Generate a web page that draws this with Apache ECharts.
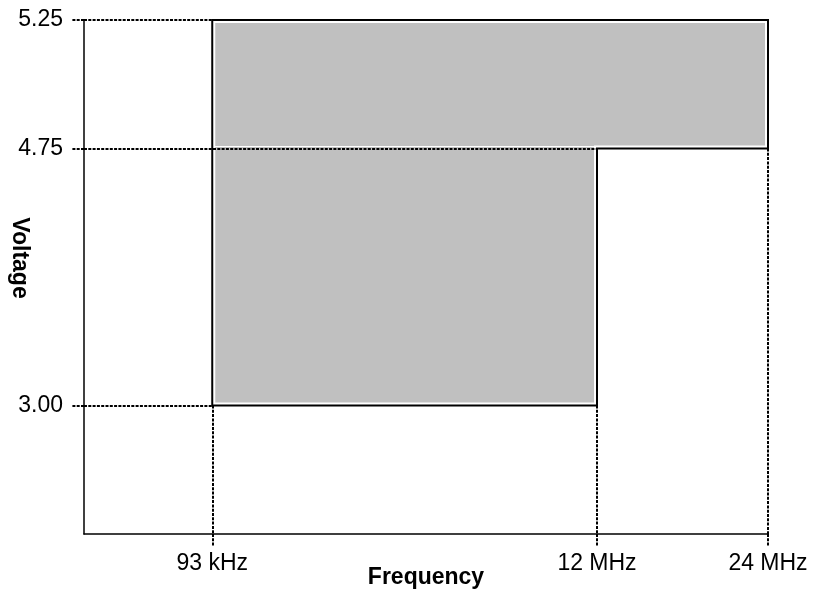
<!DOCTYPE html>
<html>
<head>
<meta charset="utf-8">
<script src="https://cdn.jsdelivr.net/npm/echarts@6/dist/echarts.min.js"></script>
<style>
  html, body { margin: 0; padding: 0; background: #fff; }
  #chart { width: 814px; height: 590px; }
</style>
</head>
<body>
<div id="chart"></div>
<script>
// tick labels and where they sit on the (schematic, not to scale) axes
var freqLabels = ['93 kHz', '12 MHz', '24 MHz'];
var freqSlots = [3, 12, 16];
var voltLabels = ['3.00', '4.75', '5.25'];
var voltSlots = [1, 3, 4];

// operating region, as two bands
var bandFrom = ['93 kHz', '12 MHz'];
var bandTo = ['12 MHz', '24 MHz'];
var bandLow = ['3.00', '4.75'];
var bandHigh = ['5.25', '5.25'];

// dotted guide lines
var voltGuideTo = ['93 kHz', '12 MHz', '93 kHz'];   // per voltLabels
var freqGuideFrom = ['3.00', '3.00', '4.75'];       // per freqLabels

function fx(label) { return freqSlots[freqLabels.indexOf(label)]; }
function vy(label) { return voltSlots[voltLabels.indexOf(label)]; }

// outline of the stepped region
var outline = [
  [fx(bandFrom[0]), vy(bandLow[0])],
  [fx(bandTo[0]), vy(bandLow[0])],
  [fx(bandTo[0]), vy(bandLow[1])],
  [fx(bandTo[1]), vy(bandLow[1])],
  [fx(bandTo[1]), vy(bandHigh[1])],
  [fx(bandFrom[0]), vy(bandHigh[0])]
];

var guides = [];
voltLabels.forEach(function (v, i) {
  guides.push({ coords: [[0, vy(v)], [fx(voltGuideTo[i]), vy(v)]] });
});
freqLabels.forEach(function (f, i) {
  guides.push({ coords: [[fx(f), vy(freqGuideFrom[i])], [fx(f), 0]] });
});

var font = "'Liberation Sans', Arial, sans-serif";
var dotted = { color: '#000', width: 2, opacity: 1, type: [3, 1.3] };

var chart = echarts.init(document.getElementById('chart'));
chart.setOption({
  animation: false,
  backgroundColor: '#fff',
  grid: { left: 84, right: 46, top: 20, bottom: 56, containLabel: false, outerBoundsMode: 'none' },
  xAxis: {
    type: 'value',
    min: 0,
    max: 16,
    name: 'Frequency',
    nameLocation: 'middle',
    nameGap: 32,
    nameMoveOverlap: false,
    nameTextStyle: { fontFamily: font, fontSize: 23, fontWeight: 'bold', color: '#000' },
    axisLine: { lineStyle: { color: '#000', width: 1.5 } },
    axisTick: { customValues: freqSlots, length: 13, lineStyle: dotted },
    axisLabel: {
      customValues: freqSlots,
      margin: 18,
      fontFamily: font, fontSize: 23, color: '#000',
      formatter: function (v) { return freqLabels[freqSlots.indexOf(v)]; }
    },
    splitLine: { show: false }
  },
  yAxis: {
    type: 'value',
    min: 0,
    max: 4,
    axisLine: { show: true, lineStyle: { color: '#000', width: 1.5 } },
    axisTick: { show: true, customValues: voltSlots, length: 12, lineStyle: dotted },
    axisLabel: {
      customValues: voltSlots,
      margin: 21,
      fontFamily: font, fontSize: 23, color: '#000',
      formatter: function (v) { return voltLabels[voltSlots.indexOf(v)]; }
    },
    splitLine: { show: false }
  },
  graphic: [{
    type: 'text',
    x: 19,
    y: 258,
    rotation: -Math.PI / 2,
    style: {
      text: 'Voltage',
      font: "bold 23px 'Liberation Sans', Arial, sans-serif",
      fill: '#000',
      align: 'center',
      verticalAlign: 'middle'
    }
  }],
  series: [
    {
      type: 'custom',
      z: 1,
      clip: false,
      data: [[0, 0]],
      renderItem: function (params, api) {
        var pts = outline.map(function (p) { return api.coord(p); });
        var a = api.coord([fx(bandFrom[0]), vy(bandLow[1])]);
        var b = api.coord([fx(bandTo[0]), vy(bandLow[1])]);
        return {
          type: 'group',
          children: [
            { type: 'polygon', shape: { points: pts },
              style: { fill: '#c0c0c0', stroke: '#fff', lineWidth: 6 } },
            { type: 'line', shape: { x1: a[0], y1: a[1] - 2, x2: b[0], y2: b[1] - 2 },
              style: { stroke: '#fff', lineWidth: 1.2 } }
          ]
        };
      }
    },
    {
      type: 'lines',
      coordinateSystem: 'cartesian2d',
      z: 2,
      silent: true,
      lineStyle: dotted,
      data: guides
    },
    {
      type: 'custom',
      z: 3,
      clip: false,
      data: [[0, 0]],
      renderItem: function (params, api) {
        var pts = outline.map(function (p) { return api.coord(p); });
        return { type: 'polygon', shape: { points: pts },
          style: { fill: null, stroke: '#000', lineWidth: 2 } };
      }
    }
  ]
});
</script>
</body>
</html>
